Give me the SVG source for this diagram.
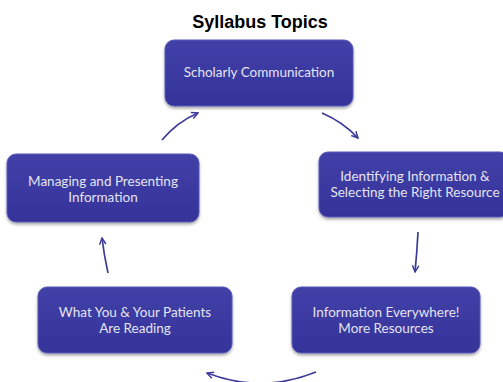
<svg xmlns="http://www.w3.org/2000/svg" width="503" height="382" viewBox="0 0 503 382">
<defs>
<linearGradient id="g" x1="0" y1="0" x2="0" y2="1">
<stop offset="0" stop-color="#4140a8"/>
<stop offset="1" stop-color="#34339a"/>
</linearGradient>
<filter id="sh" x="-10%" y="-10%" width="120%" height="130%">
<feDropShadow dx="0" dy="2" stdDeviation="1.5" flood-color="#000" flood-opacity="0.35"/>
</filter>
<marker id="ah" viewBox="0 0 10 10" refX="9" refY="5" markerWidth="8" markerHeight="8" orient="auto" markerUnits="userSpaceOnUse">
<path d="M1,1 L9,5 L1,9" fill="none" stroke="#3b3a98" stroke-width="1.8"/>
</marker>
<style>
.box{fill:url(#g);stroke:#5a5ab8;stroke-width:1;filter:url(#sh)}
.t{font-family:Lato,"Liberation Sans",sans-serif;font-size:13.5px;fill:#e4e4f0;text-anchor:middle}
.c{fill:none;stroke:#3b3a98;stroke-width:1.7;marker-end:url(#ah)}
</style>
</defs>
<rect width="503" height="382" fill="#ffffff"/>
<text x="260" y="28" font-family="Liberation Sans,Arial,sans-serif" font-weight="bold" font-size="18" text-anchor="middle" fill="#000">Syllabus Topics</text>
<g id="n1"><rect class="box" x="165" y="40" width="188" height="66" rx="9"/><text class="t" x="259" y="77">Scholarly Communication</text></g>
<g id="n2"><rect class="box" x="319" y="152" width="190" height="65" rx="9"/><text class="t" x="415" y="181">Identifying Information &amp;</text><text class="t" x="415" y="197">Selecting the Right Resource</text></g>
<g id="n3"><rect class="box" x="292" y="287" width="188" height="66" rx="9"/><text class="t" x="386" y="317">Information Everywhere!</text><text class="t" x="386" y="333">More Resources</text></g>
<g id="n4"><rect class="box" x="38" y="287" width="194" height="66" rx="9"/><text class="t" x="135" y="317">What You &amp; Your Patients</text><text class="t" x="135" y="333">Are Reading</text></g>
<g id="n5"><rect class="box" x="7" y="154" width="192" height="68" rx="9"/><text class="t" x="103" y="186">Managing and Presenting</text><text class="t" x="103" y="202">Information</text></g>
<g id="connectors">
<path class="c" d="M162,140 Q177,122 198,113"/>
<path class="c" d="M322,113 Q343,122 358,138"/>
<path class="c" d="M418,232 Q417,252 415,272"/>
<path class="c" d="M316,372 Q262,394 207,373"/>
<path class="c" d="M108,273 Q104,255 102,238"/>
</g>
</svg>
